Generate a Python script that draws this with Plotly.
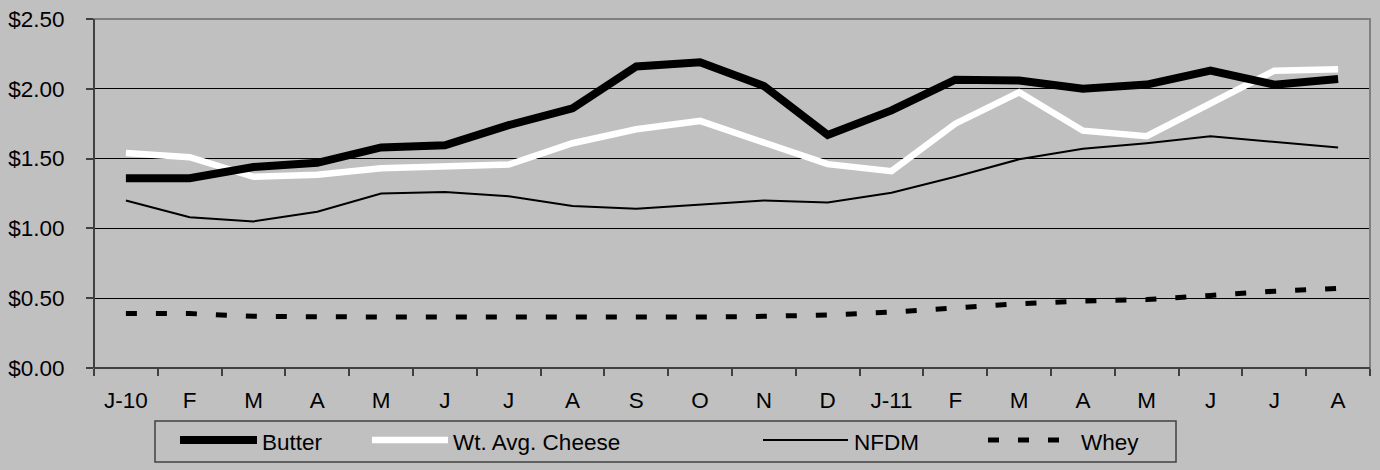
import plotly.graph_objects as go

months = ["J-10", "F", "M", "A", "M", "J", "J", "A", "S", "O", "N", "D",
          "J-11", "F", "M", "A", "M", "J", "J", "A"]
butter = [1.36, 1.36, 1.44, 1.47, 1.58, 1.595, 1.74, 1.86, 2.16, 2.19, 2.02, 1.67,
          1.845, 2.065, 2.06, 2.00, 2.03, 2.13, 2.03, 2.07]
cheese = [1.54, 1.51, 1.37, 1.385, 1.43, 1.445, 1.457, 1.61, 1.71, 1.77, 1.62, 1.46,
          1.41, 1.75, 1.975, 1.70, 1.66, 1.90, 2.13, 2.14]
nfdm = [1.20, 1.08, 1.05, 1.12, 1.25, 1.26, 1.23, 1.16, 1.14, 1.17, 1.20, 1.185,
        1.255, 1.37, 1.495, 1.57, 1.61, 1.66, 1.62, 1.58]
whey = [0.39, 0.39, 0.37, 0.365, 0.365, 0.365, 0.365, 0.36, 0.365, 0.365, 0.37, 0.38,
        0.40, 0.43, 0.46, 0.48, 0.49, 0.52, 0.55, 0.57]
y_ticks = [0, 0.5, 1.0, 1.5, 2.0, 2.5]

x = list(range(len(months)))
BG = "#c0c0c0"
FONT = "Liberation Sans, Arial, sans-serif"

W, H = 1380, 470
L, R, T, B = 94, 1370, 19, 368


def px(xp):
    return (xp - L) / (R - L)


def py(yp):
    return (B - yp) / (B - T)


fig = go.Figure()
fig.add_trace(go.Scatter(x=x, y=whey, mode="lines", name="Whey",
                         line=dict(color="black", width=5, dash="11px,19px")))
fig.add_trace(go.Scatter(x=x, y=nfdm, mode="lines", name="NFDM",
                         line=dict(color="black", width=2)))
fig.add_trace(go.Scatter(x=x, y=cheese, mode="lines", name="Wt. Avg. Cheese",
                         line=dict(color="white", width=6.5)))
fig.add_trace(go.Scatter(x=x, y=butter, mode="lines", name="Butter",
                         line=dict(color="black", width=8)))

shapes = []
shapes.append(dict(type="rect", xref="paper", yref="paper", x0=0, x1=1, y0=0, y1=1,
                   line=dict(color="#808080", width=2), layer="above"))
shapes.append(dict(type="line", xref="paper", yref="paper", x0=0, x1=0, y0=0, y1=1,
                   line=dict(color="#404040", width=2), layer="above"))
shapes.append(dict(type="line", xref="paper", yref="paper", x0=0, x1=1, y0=0, y1=0,
                   line=dict(color="#404040", width=2), layer="above"))
shapes.append(dict(type="rect", xref="paper", yref="paper",
                   x0=px(155), x1=px(1176), y0=py(462), y1=py(421),
                   line=dict(color="#404040", width=1.5)))
ly = py(440)
legend_items = [
    ("Butter", 180, 257, 260, dict(color="black", width=8)),
    ("Wt. Avg. Cheese", 372, 448, 451, dict(color="white", width=6.5)),
    ("NFDM", 763, 848, 852, dict(color="black", width=2)),
    ("Whey", 988, 1060, 1079, dict(color="black", width=5, dash="11px,19px")),
]
annotations = []
for name, x0, x1, tx, ln in legend_items:
    shapes.append(dict(type="line", xref="paper", yref="paper", x0=px(x0), x1=px(x1),
                       y0=ly, y1=ly, line=ln))
    annotations.append(dict(text=name, xref="paper", yref="paper", x=px(tx), y=py(442),
                            xanchor="left", yanchor="middle", showarrow=False,
                            font=dict(size=22.5, color="black", family=FONT)))

fig.update_layout(
    width=W, height=H,
    margin=dict(l=L, r=W - R, t=T, b=H - B, pad=0, autoexpand=False),
    paper_bgcolor=BG, plot_bgcolor=BG,
    font=dict(family=FONT, size=22.5, color="black"),
    showlegend=False,
    shapes=shapes, annotations=annotations,
    xaxis=dict(range=[-0.5, len(months) - 0.5], tickmode="array", tickvals=x,
               ticktext=months, ticks="outside", ticklen=12, tickcolor="rgba(0,0,0,0)",
               showgrid=False, zeroline=False, showline=False, automargin=False,
               minor=dict(tick0=-0.5, dtick=1, ticks="outside", ticklen=7,
                          tickcolor="#404040", tickwidth=1.5, showgrid=False)),
    yaxis=dict(range=[0, 2.5], tickmode="array", tickvals=y_ticks, tickformat="$.2f",
               ticks="outside", ticklen=7, tickcolor="#404040", tickwidth=1.5,
               ticklabelstandoff=17, automargin=False,
               showgrid=True, gridcolor="black", gridwidth=1, zeroline=False,
               showline=False),
)

fig.write_html("out.html", config={"displayModeBar": False},
               post_script="document.body.style.margin='0';"
                           "document.body.style.background='#c0c0c0';")
